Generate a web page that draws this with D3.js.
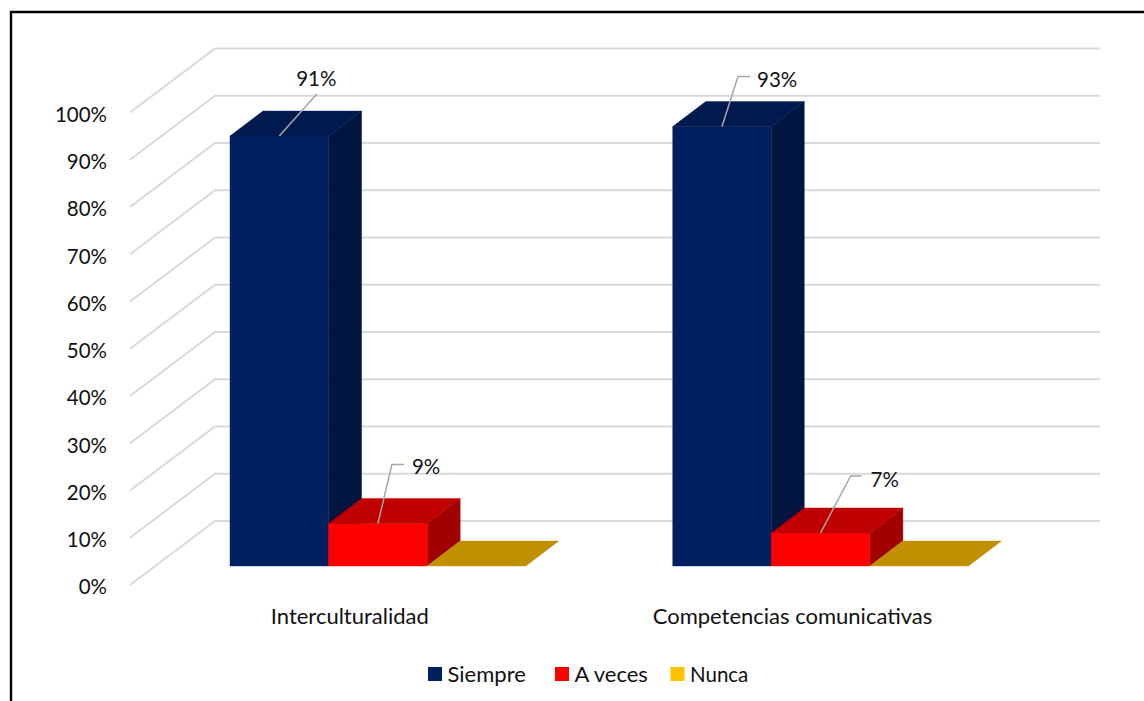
<!DOCTYPE html>
<html><head><meta charset="utf-8">
<script src="https://cdn.jsdelivr.net/npm/d3@7"></script>
<style>html,body{margin:0;padding:0;background:#fff}svg{display:block}text{font-family:Lato,"Open Sans",sans-serif;fill:#111}</style>
</head><body><svg id="c" width="1144" height="701"></svg>
<script>
const categories = ["Interculturalidad", "Competencias comunicativas"];
const seriesNames = ["Siempre", "A veces", "Nunca"];
const siempre = [0.91, 0.93];
const aVeces = [0.09, 0.07];
const nunca = [0, 0];
const yTicks = [0, 0.1, 0.2, 0.3, 0.4, 0.5, 0.6, 0.7, 0.8, 0.9, 1];

const svg = d3.select("#c");
const FS = 20.5, FS_TEXT = 22;
const y = d3.scaleLinear().domain([0, 1]).range([566, 93.5]);
const barX = d3.scaleLinear().domain([0, 1]).range([230, 672.7]);
const barW = 98.6, depthX = 33, depthY = 25;
const backDy = -45, floorDx = 85, floorDy = 64;
const gridBack = v => y(v) + backDy;
const colors = [
  {front:"#002060", top:"#001a50", side:"#001540"},
  {front:"#ff0000", top:"#c00000", side:"#a00000"},
  {front:"#c09000", top:"#c09000", side:"#c09000"}
];
const legendColors = ["#002060", "#ff0000", "#ffc000"];
const series = [siempre, aVeces, nunca];
const line = d3.line();
const face = (pts, fill) => svg.append("path").attr("d", line(pts)+"Z").attr("fill",fill).attr("stroke",fill).attr("stroke-width",0.4);

// frame
svg.append("path").attr("d", "M11,701V12H1144").attr("fill","none").attr("stroke","#000").attr("stroke-width",2.4);

// gridlines
yTicks.forEach(t => {
  const yb = gridBack(t);
  svg.append("path").attr("d", line([[215-floorDx, yb+floorDy],[215, yb],[1100, yb]]))
    .attr("fill","none").attr("stroke","#d9d9d9").attr("stroke-width",2);
  svg.append("text").attr("x",107).attr("y",yb+floorDy+9.3).attr("text-anchor","end")
    .attr("font-size",FS).text(d3.format(".0%")(t));
});

// bars
categories.forEach((c, ci) => {
  series.forEach((vals, si) => {
    const v = vals[ci], x0 = barX(ci) + si*barW, x1 = x0 + barW, y0 = y(0), yt = y(v), col = colors[si];
    if (v > 0) {
      face([[x1,y0],[x1+depthX,y0-depthY],[x1+depthX,yt-depthY],[x1,yt]], col.side);
      face([[x0,y0],[x1,y0],[x1,yt],[x0,yt]], col.front);
    }
    face([[x0,yt],[x1,yt],[x1+depthX,yt-depthY],[x0+depthX,yt-depthY]], col.top);
  });
  svg.append("text").attr("x", barX(ci)+barW*1.2+1.5).attr("y",624).attr("text-anchor","middle")
    .attr("font-size",FS_TEXT).text(c);
});

// data labels with leader lines (offsets from bar top-centre)
const labelLayout = [
  {s:0,c:0,pts:[[37.5,-42]],tx:37,ty:-50,a:"middle"},
  {s:1,c:0,pts:[[14,-59],[26,-59]],tx:34,ty:-49,a:"start"},
  {s:0,c:1,pts:[[16,-50],[28,-50]],tx:35,ty:-40,a:"start"},
  {s:1,c:1,pts:[[30,-57],[41,-57]],tx:50,ty:-46,a:"start"}
];
labelLayout.forEach(l => {
  const v = series[l.s][l.c], cx = barX(l.c)+l.s*barW+barW/2, cy = y(v);
  svg.append("path").attr("d", line([[cx,cy]].concat(l.pts.map(p=>[cx+p[0],cy+p[1]]))))
    .attr("fill","none").attr("stroke","#a6a6a6").attr("stroke-width",1.5);
  svg.append("text").attr("x",cx+l.tx).attr("y",cy+l.ty).attr("text-anchor",l.a).attr("font-size",FS)
    .text(d3.format(".0%")(v));
});

// legend
const legendX = d3.scaleOrdinal().domain(seriesNames).range([428, 555, 670.5]);
seriesNames.forEach((n,i) => {
  const x = legendX(n);
  svg.append("rect").attr("x",x).attr("y",667).attr("width",14).attr("height",14).attr("fill",legendColors[i]);
  svg.append("text").attr("x",x+19.5).attr("y",682).attr("font-size",i===2?FS:FS_TEXT).text(n);
});
</script></body></html>
